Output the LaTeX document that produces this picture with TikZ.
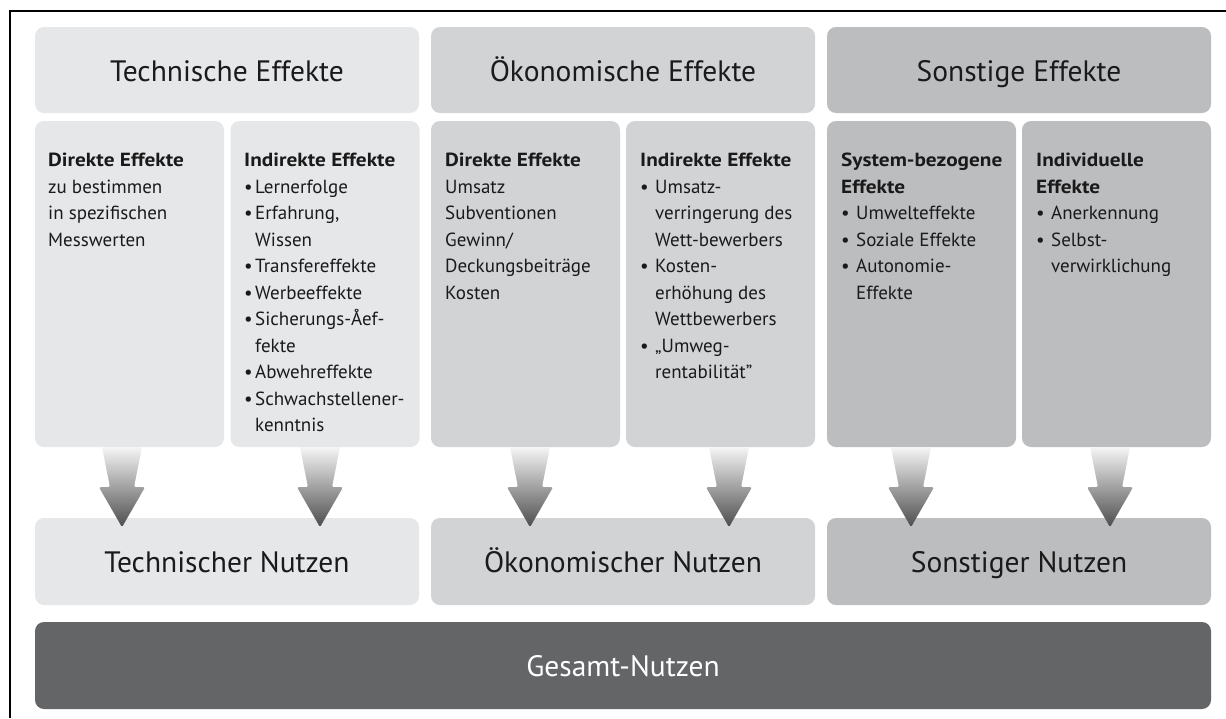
\documentclass[tikz,border=0pt]{standalone}
\usepackage{fontspec}
\setmainfont{PT Sans}
\newfontfamily\tbf[FakeStretch=1.12]{PT Sans}
\usetikzlibrary{calc}
\definecolor{cA}{HTML}{E6E7E9}
\definecolor{cB}{HTML}{D2D3D5}
\definecolor{cC}{HTML}{BCBDBF}
\definecolor{cD}{HTML}{636567}
\definecolor{txt}{HTML}{1A1A1A}
\newcommand\bu[1][15pt]{\makebox[#1][l]{•}}
\newcommand\ind[1][15pt]{\hspace*{#1}}
\newcommand\ttl[1]{{\tbf\bfseries #1}}
\begin{document}
\begin{tikzpicture}[x=1pt,y=-1pt,
  panel/.style={rounded corners=9pt, inner sep=0pt, text=txt},
  big/.style={font=\fontsize{29.5}{33}\selectfont, text height=24pt, text depth=2pt},
  head/.style={panel, big, minimum width=384pt, minimum height=86pt},
  nutz/.style={panel, big, minimum width=384pt, minimum height=87pt},
  col/.style={panel, minimum width=189pt, minimum height=326pt},
  body/.style={anchor=north west, inner sep=0pt, align=left, text=txt, font=\fontsize{19}{26.5}\selectfont},
  arrowshade/.style={top color=white!96!black, bottom color=black!70, rounded corners=1.5pt},
]
\useasboundingbox (0,0) rectangle (1226,718);
\draw[line width=1.3pt] (10,718) -- (10,11) -- (1226,11);

% headers
\node[head, fill=cA] (h1) at (227,70) {Technische Effekte};
\node[head, fill=cB] (h2) at (623,70) {Ökonomische Effekte};
\node[head, fill=cC] (h3) at (1019,70) {Sonstige Effekte};

% columns
\node[col, fill=cA] (c1) at (129.5,284) {};
\node[col, fill=cA] (c2) at (325,284) {};
\node[col, fill=cB] (c3) at (525.5,284) {};
\node[col, fill=cB] (c4) at (720.5,284) {};
\node[col, fill=cC] (c5) at (921.5,284) {};
\node[col, fill=cC] (c6) at (1116.5,284) {};

\node[body] (t1) at (48,153) {\ttl{Direkte Effekte}\\zu bestimmen\\in spezifischen\\Messwerten};
\node[body] (t2) at (244,153) {\ttl{Indirekte Effekte}\\\bu[11pt]Lernerfolge\\\bu[11pt]Erfahrung,\\\ind[11pt]Wissen\\\bu[11pt]Transfereffekte\\\bu[11pt]Werbeeffekte\\\bu[11pt]Sicherungs-Åef-\\\ind[11pt]fekte\\\bu[11pt]Abwehreffekte\\\bu[11pt]Schwachstellener-\\\ind[11pt]kenntnis};
\node[body] (t3) at (445,153) {\ttl{Direkte Effekte}\\Umsatz\\Subventionen\\Gewinn/\\Deckungsbeiträge\\Kosten};
\node[body] (t4) at (640,153) {\ttl{Indirekte Effekte}\\\bu Umsatz-\\\ind verringerung des\\\ind Wett-bewerbers\\\bu Kosten-\\\ind erhöhung des\\\ind Wettbewerbers\\\bu „Umweg-\\\ind rentabilität”};
\node[body] (t5) at (841,153) {\ttl{System-bezogene}\\\ttl{Effekte}\\\bu Umwelteffekte\\\bu Soziale Effekte\\\bu Autonomie-\\\ind Effekte};
\node[body] (t6) at (1036,153) {\ttl{Individuelle}\\\ttl{Effekte}\\\bu Anerkennung\\\bu Selbst-\\\ind verwirklichung};

% Nutzen boxes
\node[nutz, fill=cA] (n1) at (227,561.5) {Technischer Nutzen};
\node[nutz, fill=cB] (n2) at (623,561.5) {Ökonomischer Nutzen};
\node[nutz, fill=cC] (n3) at (1019,561.5) {Sonstiger Nutzen};

\node[panel, big, fill=cD, text=white, minimum width=1176pt, minimum height=87pt] (g) at (623,665.5) {Gesamt-Nutzen};

% arrows
\coordinate (a1) at (c1.south -| 122,0);
\coordinate (a2) at (c2.south -| 320,0);
\coordinate (a3) at (c3.south -| 530,0);
\coordinate (a4) at (c4.south -| 729,0);
\coordinate (a5) at (c5.south -| 911,0);
\coordinate (a6) at (c6.south -| 1110,0);
\foreach \c in {a1,a2,a3,a4,a5,a6}
  \shade[arrowshade, shift={(\c)}] (-20,0) -- (20,0) -- (12,40) -- (23,40) -- (0,80) -- (-23,40) -- (-12,40) -- cycle;
\end{tikzpicture}
\end{document}
